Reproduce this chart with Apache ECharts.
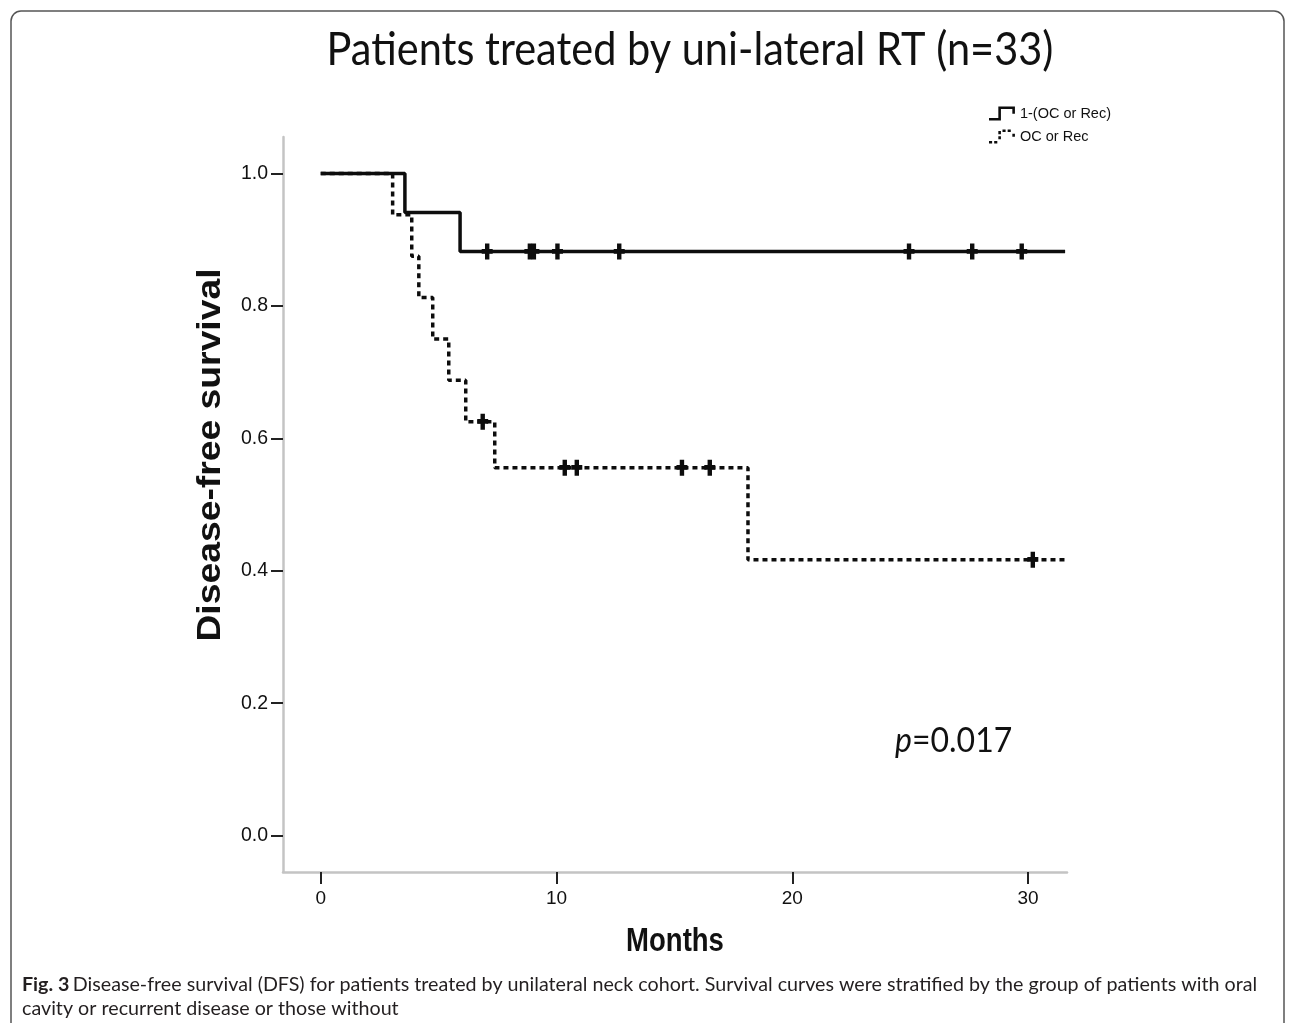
<!DOCTYPE html>
<html>
<head>
<meta charset="utf-8">
<script src="https://cdn.jsdelivr.net/npm/echarts@6/dist/echarts.min.js"></script>
<style>
  html, body { margin: 0; padding: 0; background: #ffffff; }
  #chart { width: 1290px; height: 1023px; }
</style>
</head>
<body>
<div id="chart"></div>
<script>
// ---- Data ----
const xTickValues = [0, 10, 20, 30];
const yTickValues = [0, 0.2, 0.4, 0.6, 0.8, 1.0];

const seriesNames = ['1-(OC or Rec)', 'OC or Rec'];

// Group "1-(OC or Rec)" (solid line) - Kaplan-Meier steps
const solidTimes = [0, 3.57, 5.91, 31.57];
const solidSurv  = [1.0, 0.941, 0.882, 0.882];
const solidCensorTimes = [7.06, 8.87, 9.04, 10.04, 12.66, 24.95, 27.63, 29.73];
const solidCensorSurv  = [0.882, 0.882, 0.882, 0.882, 0.882, 0.882, 0.882, 0.882];

// Group "OC or Rec" (dotted line)
const dottedTimes = [0, 3.05, 3.86, 4.16, 4.75, 5.43, 6.15, 7.38, 18.12, 31.57];
const dottedSurv  = [1.0, 0.9375, 0.875, 0.8125, 0.75, 0.6875, 0.625, 0.5556, 0.4167, 0.4167];
const dottedCensorTimes = [6.87, 10.35, 10.86, 15.32, 16.5, 30.2];
const dottedCensorSurv  = [0.625, 0.5556, 0.5556, 0.5556, 0.5556, 0.4167];

const titleText = 'Patients treated by uni-lateral RT (n=33)';
const xAxisName = 'Months';
const yAxisName = 'Disease-free survival';
const pValueLabel = '0.017';
const captionLine1 = 'Disease-free survival (DFS) for patients treated by unilateral neck cohort. Survival curves were stratified by the group of patients with oral';
const captionLine2 = 'cavity or recurrent disease or those without';

// ---- Build ----
const zip = (a, b) => a.map((v, i) => [v, b[i]]);

const censorSymbol = 'path://M3,0 H7 V5 H10 V9.5 H7 V15 H3 V9.5 H0 V5 H3 Z';
const solidIcon = 'path://M0,11 L9,11 L9,0 L25,0 L25,7 L22.5,7 L22.5,2.5 L11.5,2.5 L11.5,13.5 L0,13.5 Z';
const dottedIcon = 'path://M0,11 h3 v2.5 h-3 Z M5,11 h3 v2.5 h-3 Z M9,6.5 h2.5 v3 h-2.5 Z M9,1.5 h2.5 v3 h-2.5 Z M13,0 h3 v2.5 h-3 Z M18,0 h3 v2.5 h-3 Z M22.5,4 h2.5 v3 h-2.5 Z';

const axisGray = '#c4c4c4';
const inkColor = '#0d0d0d';
const tickFont = 'Liberation Sans';

const chart = echarts.init(document.getElementById('chart'), null, { renderer: 'canvas' });

const option = {
  backgroundColor: '#ffffff',
  animation: false,
  legend: {
    orient: 'vertical',
    left: 984,
    top: 101,
    itemWidth: 26,
    itemHeight: 14,
    itemGap: 8,
    data: [
      { name: seriesNames[0], icon: solidIcon },
      { name: seriesNames[1], icon: dottedIcon }
    ],
    textStyle: { fontFamily: tickFont, fontSize: 14.5, color: '#111111' }
  },
  grid: { left: 283, right: 223, top: 137, bottom: 151, containLabel: false },
  xAxis: {
    type: 'value',
    min: -1.6,
    max: 31.65,
    splitLine: { show: false },
    axisLine: { show: true, onZero: false, lineStyle: { color: axisGray, width: 2.5 } },
    axisTick: { show: true, length: 12, customValues: xTickValues, lineStyle: { color: '#222222', width: 2 } },
    axisLabel: { customValues: xTickValues, margin: 17, fontFamily: tickFont, fontSize: 19, color: '#111111' }
  },
  yAxis: {
    type: 'value',
    min: -0.055,
    max: 1.055,
    splitLine: { show: false },
    axisLine: { show: true, onZero: false, lineStyle: { color: axisGray, width: 2.5 } },
    axisTick: { show: true, length: 12, customValues: yTickValues, lineStyle: { color: '#222222', width: 2 } },
    axisLabel: {
      customValues: yTickValues, margin: 15, fontFamily: tickFont, fontSize: 19.5, color: '#111111',
      formatter: v => v.toFixed(1)
    }
  },
  series: [
    {
      name: seriesNames[0],
      type: 'line',
      step: 'end',
      showSymbol: false,
      data: zip(solidTimes, solidSurv),
      color: inkColor,
      lineStyle: { color: inkColor, width: 3.5, type: 'solid' },
      z: 3
    },
    {
      name: seriesNames[1],
      type: 'line',
      step: 'end',
      showSymbol: false,
      data: zip(dottedTimes, dottedSurv),
      color: inkColor,
      lineStyle: { color: inkColor, width: 3.5, type: [5, 4] },
      z: 3
    },
    {
      name: 'censor-solid',
      type: 'scatter',
      symbol: censorSymbol,
      symbolSize: [11, 16],
      data: zip(solidCensorTimes, solidCensorSurv),
      itemStyle: { color: inkColor, opacity: 1 },
      z: 4
    },
    {
      name: 'censor-dotted',
      type: 'scatter',
      symbol: censorSymbol,
      symbolSize: [11, 16],
      data: zip(dottedCensorTimes, dottedCensorSurv),
      itemStyle: { color: inkColor, opacity: 1 },
      z: 4
    }
  ],
  graphic: [
    {
      type: 'rect',
      shape: { x: 11, y: 11, width: 1273, height: 1040, r: 10 },
      style: { fill: 'none', stroke: '#555555', lineWidth: 1.5 },
      silent: true, z: -1
    },
    {
      type: 'text',
      x: 690, y: 50,
      scaleY: 1.12,
      style: {
        text: titleText,
        fontFamily: 'Lato', fontSize: 41.5, fill: '#111111',
        align: 'center', verticalAlign: 'middle'
      }
    },
    {
      type: 'text',
      x: 211, y: 455,
      rotation: Math.PI / 2,
      scaleX: 1.13,
      style: {
        text: yAxisName,
        fontFamily: tickFont, fontWeight: 'bold', fontSize: 33, fill: '#111111',
        align: 'center', verticalAlign: 'middle'
      }
    },
    {
      type: 'text',
      x: 675, y: 942,
      scaleY: 1.2,
      style: {
        text: xAxisName,
        fontFamily: tickFont, fontWeight: 'bold', fontSize: 27.5, fill: '#111111',
        align: 'center', verticalAlign: 'middle'
      }
    },
    {
      type: 'text',
      x: 895, y: 741,
      scaleY: 1.1,
      style: {
        text: '{i|p}{n|=' + pValueLabel + '}',
        verticalAlign: 'middle',
        rich: {
          i: { fontFamily: 'Lato', fontStyle: 'italic', fontSize: 32, fill: '#111111' },
          n: { fontFamily: 'Lato', fontSize: 32, fill: '#111111' }
        }
      }
    },
    {
      type: 'text',
      x: 22, y: 985,
      style: {
        text: '{b|Fig. 3} {r|' + captionLine1 + '}',
        verticalAlign: 'middle',
        rich: {
          b: { fontFamily: 'Lato', fontWeight: 'bold', fontSize: 19.7, fill: '#231f20' },
          r: { fontFamily: 'Lato', fontSize: 19.7, fill: '#231f20' }
        }
      }
    },
    {
      type: 'text',
      x: 22, y: 1009,
      style: {
        text: captionLine2,
        verticalAlign: 'middle',
        fontFamily: 'Lato', fontSize: 19.7, fill: '#231f20'
      }
    }
  ]
};

chart.setOption(option);
</script>
</body>
</html>
